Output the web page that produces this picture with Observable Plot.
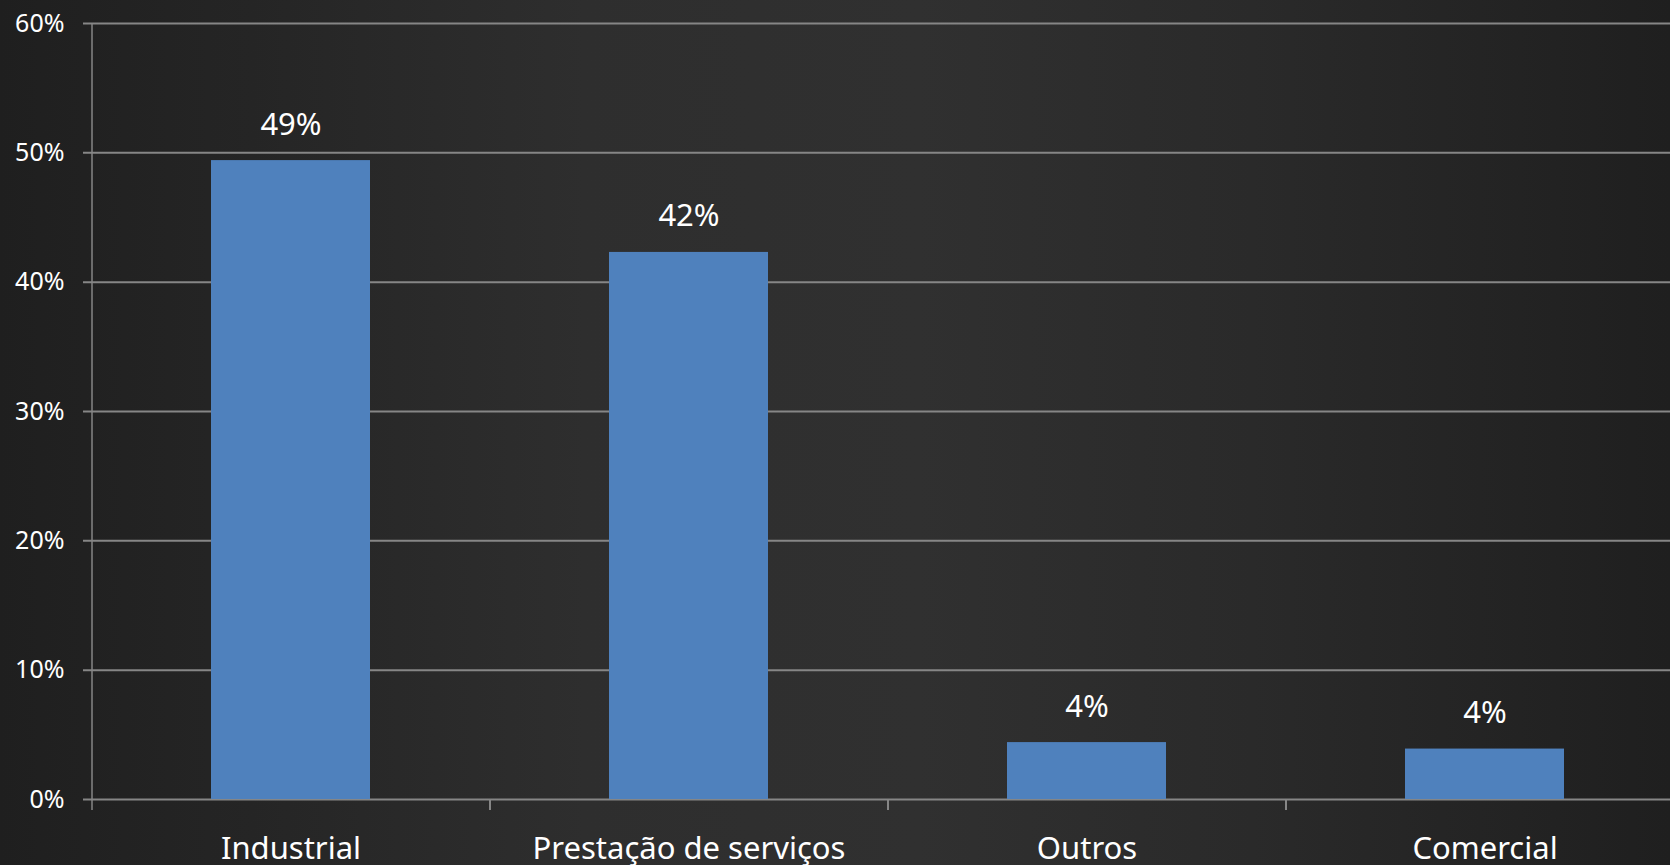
<!DOCTYPE html>
<html>
<head>
<meta charset="utf-8">
<script src="https://cdn.jsdelivr.net/npm/d3@7"></script>
<script src="https://cdn.jsdelivr.net/npm/@observablehq/plot@0.6"></script>
<style>
  html, body { margin: 0; padding: 0; width: 1670px; height: 865px; overflow: hidden; }
  body {
    background: linear-gradient(to right, #1f1f1f 0%, #252525 15%, #2e2e2e 35%, #303030 55%, #2a2a2a 75%, #1f1f1f 100%);
    font-family: "Noto Sans", "Open Sans", sans-serif;
  }
  #chart svg { display: block; }
</style>
</head>
<body>
<div id="chart"></div>
<script>
const categories = ["Industrial", "Prestação de serviços", "Outros", "Comercial"];
const values = [0.494, 0.423, 0.044, 0.039];
const labels = ["49%", "42%", "4%", "4%"];
const yTicks = [0, 0.1, 0.2, 0.3, 0.4, 0.5, 0.6];

const data = categories.map((c, i) => ({category: c, value: values[i], label: labels[i]}));

const W = 1670, H = 865;
const marginLeft = 92, marginRight = -14, marginTop = 23, marginBottom = 66;
const step = (W - marginRight - marginLeft) / categories.length;

const chart = Plot.plot({
  width: W,
  height: H,
  marginLeft, marginRight, marginTop, marginBottom,
  style: {background: "transparent", color: "#ffffff", fontFamily: "'Noto Sans', 'Open Sans', sans-serif", overflow: "hidden"},
  x: {domain: categories, paddingInner: 0.6, paddingOuter: 0.3, axis: null, label: null},
  y: {domain: [0, 0.6], axis: null, label: null},
  marks: [
    Plot.ruleY(yTicks, {y: d => d, stroke: "#868686", strokeWidth: 2, insetLeft: -9}),
    Plot.axisY(yTicks, {tickSize: 0, tickPadding: 28, tickFormat: d3.format(".0%"), fontSize: 25, fill: "#ffffff", label: null}),
    Plot.barY(data, {x: "category", y: "value", fill: "#4f81bd"}),
    Plot.ruleX([categories[0]], {x: d => d, dx: -step / 2, y1: 0.6, y2: 0, insetBottom: -11, stroke: "#868686", strokeWidth: 1.5}),
    Plot.ruleX(categories.slice(1), {x: d => d, dx: -step / 2, y1: 0, y2: 0, insetBottom: -11, stroke: "#868686", strokeWidth: 2}),
    Plot.text(data, {x: "category", y: "value", text: "label", dy: -36, fontSize: 31, fill: "#ffffff"}),
    Plot.axisX(categories, {tickSize: 0, tickPadding: 37, fontSize: 31, fill: "#ffffff", label: null})
  ]
});
document.getElementById("chart").appendChild(chart);
</script>
</body>
</html>
